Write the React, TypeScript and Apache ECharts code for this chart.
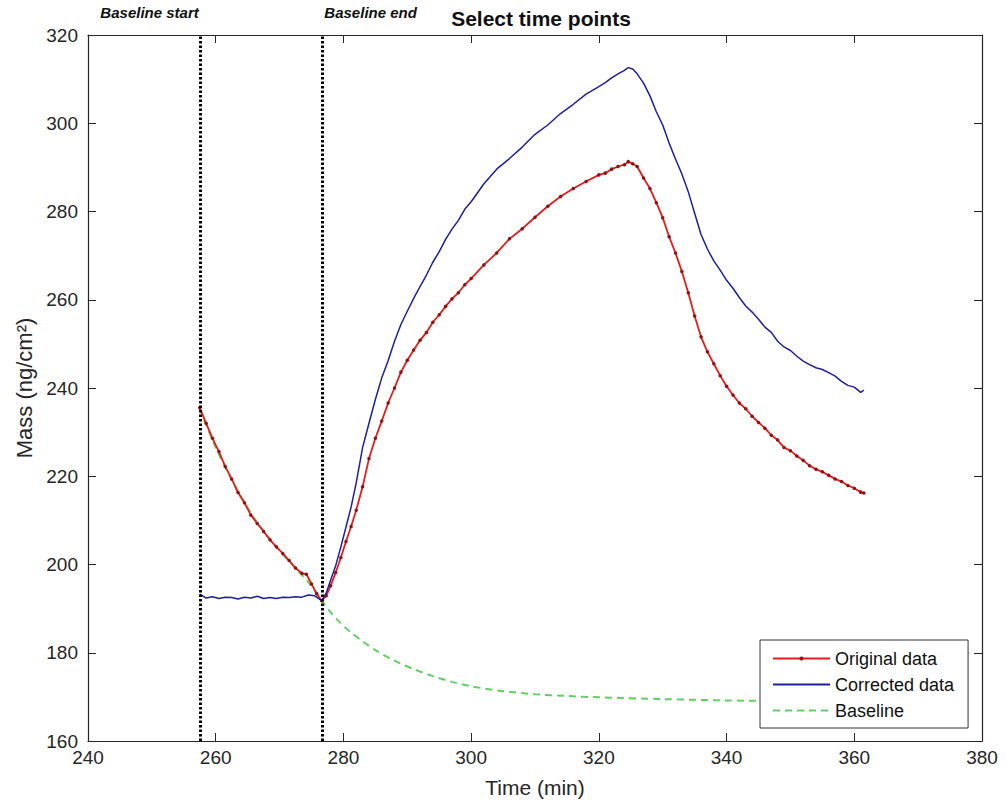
import React, { useEffect, useRef } from "react";
import * as echarts from "echarts";

// Axis ranges (MATLAB-style box)
const X_MIN = 240;
const X_MAX = 380;
const X_STEP = 20;
const Y_MIN = 160;
const Y_MAX = 320;
const Y_STEP = 20;

const chartTitle = "Select time points";
const xAxisName = "Time (min)";
const yAxisName = "Mass (ng/cm²)";
const seriesNames = ["Original data", "Corrected data", "Baseline"];

// Selected time points (vertical dotted lines)
const selectedTimes = [257.5, 276.7];
const selectedLabels = ["Baseline start", "Baseline end"];

// Original data (red)
const tOriginal = [
  257.5, 258.5, 259.5, 260.5, 261.5, 262.5, 263.5, 264.5, 265.5, 266.5, 267.5, 268.5, 269.5, 270.5,
  271.5, 272.5, 273.5, 274.2, 275, 275.8, 276.6, 277.3, 278, 278.8, 279.6, 280.4, 281.2, 282, 283,
  284, 285, 286, 287, 288, 289, 290, 291, 292, 293, 294, 295, 296, 297, 298, 299, 300, 302, 304,
  306, 308, 310, 312, 314, 316, 318, 320, 321, 322, 323, 324, 324.6, 325.3, 326, 327, 328, 329,
  330, 331, 332, 333, 334, 335, 336, 337, 338, 339, 340, 341, 342, 343, 344, 345, 346, 347, 348,
  349, 350, 351, 352, 353, 354, 355, 356, 357, 358, 359, 360, 361, 361.5,
];
const massOriginal = [
  235.5, 232.0, 228.6, 225.6, 222.2, 219.4, 216.3, 214.0, 211.2, 209.3, 207.5, 205.6, 204.0, 202.5,
  200.9, 199.2, 198.0, 197.8, 195.6, 193.4, 191.8, 192.9, 195.2, 198.2, 201.6, 205.2, 208.6, 212.3,
  217.6, 224.0, 228.6, 232.5, 236.6, 240.0, 243.6, 246.3, 248.6, 250.8, 252.6, 254.9, 256.6, 258.5,
  260.2, 261.6, 263.4, 264.8, 267.9, 270.6, 273.8, 276.1, 278.7, 281.2, 283.4, 285.2, 286.8, 288.3,
  288.7, 289.6, 290.2, 290.6, 291.3, 290.8, 290.2, 287.6, 285.2, 282.0, 278.6, 274.3, 270.6, 266.4,
  261.6, 256.3, 251.6, 248.2, 245.5, 242.8, 240.4, 238.4, 236.6, 235.3, 233.6, 232.2, 230.9, 229.3,
  228.2, 226.5, 225.8, 224.6, 223.6, 222.4, 221.6, 221.0, 220.2, 219.4, 218.8, 217.9, 217.3, 216.4,
  216.2,
];

// Corrected data (blue)
const tCorrected = [
  257.5, 258.5, 259.5, 260.5, 261.5, 262.5, 263.5, 264.5, 265.5, 266.5, 267.5, 268.5, 269.5, 270.5,
  271.5, 272.5, 273.5, 274.5, 275.5, 276.6, 277.3, 278, 278.8, 279.6, 280.4, 281.2, 282, 283, 284,
  285, 286, 287, 288, 289, 290, 291, 292, 293, 294, 295, 296, 297, 298, 299, 300, 302, 304, 306,
  308, 310, 312, 314, 316, 318, 320, 321, 322, 323, 324, 324.6, 325.3, 326, 327, 328, 329, 330, 331,
  332, 333, 334, 335, 336, 337, 338, 339, 340, 341, 342, 343, 344, 345, 346, 347, 348, 349, 350, 351,
  352, 353, 354, 355, 356, 357, 358, 359, 360, 361, 361.5,
];
const massCorrected = [
  193.3, 192.4, 192.7, 192.3, 192.6, 192.5, 192.2, 192.6, 192.4, 192.8, 192.3, 192.5, 192.3, 192.6,
  192.5, 192.7, 192.6, 193.1, 192.9, 191.8, 193.5, 196.5, 199.8, 204.0, 208.5, 213.0, 218.5, 226.5,
  232.0, 237.4, 242.3, 246.2, 250.6, 254.4, 257.4, 260.3, 263.0, 265.6, 268.5, 270.9, 273.7, 276.0,
  278.0, 280.5, 282.2, 286.3, 289.6, 292.0, 294.6, 297.5, 299.6, 302.2, 304.3, 306.6, 308.3, 309.2,
  310.3, 311.2, 312.0, 312.6, 312.3, 311.2, 309.1, 306.2, 302.6, 299.6, 295.5, 291.9, 288.5, 284.5,
  279.6, 274.8, 271.5, 268.8, 266.7, 264.4, 262.6, 260.5, 258.6, 257.2, 255.6, 253.8, 252.6, 250.6,
  249.3, 248.5, 247.2, 246.1, 245.3, 244.6, 244.2, 243.5, 242.7, 241.5, 240.6, 240.2, 239.0, 239.5,
];

// Baseline fit (green dashed)
const tBaseline = [
  257.5, 260, 263, 266, 269, 272, 274.5, 276.7, 278, 279.5, 281, 283, 285, 288, 291, 294, 297, 300,
  305, 310, 315, 320, 330, 340, 350, 361.5,
];
const massBaseline = [
  235.3, 226.5, 217.8, 210.6, 204.8, 199.9, 196.0, 191.6, 189.2, 186.8, 184.8, 182.6, 180.6, 178.2,
  176.3, 174.7, 173.4, 172.4, 171.3, 170.6, 170.2, 169.9, 169.5, 169.2, 169.0, 168.8,
];

const AXIS_COLOR = "#262626";
const FONT = "Liberation Sans, Arial, Helvetica, sans-serif";
const RED = "#e41c1c";
const RED_DOT = "#8e1414";
const BLUE = "#1f1f9a";
const GREEN = "#62d062";

function pairs(xs: number[], ys: number[]) {
  return xs.map((x, i) => [x, ys[i]]);
}

export default function App() {
  const ref = useRef<HTMLDivElement>(null);

  useEffect(() => {
    if (!ref.current) return;
    const chart = echarts.init(ref.current, undefined, { renderer: "svg" });

    const tickStyle = { show: true, inside: true, length: 8, lineStyle: { color: AXIS_COLOR, width: 1 } };
    const lineStyle = { show: true, onZero: false, lineStyle: { color: AXIS_COLOR, width: 1.2 } };

    chart.setOption({
      animation: false,
      backgroundColor: "#ffffff",
      textStyle: { fontFamily: FONT },
      title: {
        text: chartTitle,
        left: 536,
        textAlign: "center",
        top: 3,
        textStyle: { fontSize: 21, fontWeight: "bold", color: "#111", fontFamily: FONT },
      },
      grid: { left: 88, right: 24, top: 35, bottom: 71, containLabel: false },
      legend: {
        data: [
          { name: seriesNames[0] },
          { name: seriesNames[1], itemStyle: { opacity: 0 } },
          { name: seriesNames[2], itemStyle: { opacity: 0 } },
        ],
        orient: "vertical",
        left: 760,
        top: 640,
        width: 206,
        padding: [8, 10, 7, 12],
        itemGap: 5,
        itemWidth: 57,
        itemHeight: 5,
        backgroundColor: "#ffffff",
        borderColor: "#333333",
        borderWidth: 1,
        borderRadius: 0,
        textStyle: { fontSize: 18, color: "#111", fontFamily: FONT, lineHeight: 21, padding: [0, 4, 0, 0] },
      },
      xAxis: [
        {
          type: "value",
          min: X_MIN,
          max: X_MAX,
          interval: X_STEP,
          position: "bottom",
          name: xAxisName,
          nameLocation: "middle",
          nameGap: 36,
          nameTextStyle: { fontSize: 21, color: AXIS_COLOR, fontFamily: FONT },
          axisLine: lineStyle,
          axisTick: tickStyle,
          axisLabel: { fontSize: 19, color: AXIS_COLOR, margin: 7, fontFamily: FONT },
          splitLine: { show: false },
        },
        {
          type: "value",
          min: X_MIN,
          max: X_MAX,
          interval: X_STEP,
          position: "top",
          axisLine: lineStyle,
          axisTick: tickStyle,
          axisLabel: { show: false },
          splitLine: { show: false },
        },
      ],
      yAxis: [
        {
          type: "value",
          min: Y_MIN,
          max: Y_MAX,
          interval: Y_STEP,
          position: "left",
          name: yAxisName,
          nameLocation: "middle",
          nameGap: 49,
          nameTextStyle: { fontSize: 22, color: AXIS_COLOR, fontFamily: FONT },
          axisLine: lineStyle,
          axisTick: tickStyle,
          axisLabel: { fontSize: 19, color: AXIS_COLOR, margin: 10, fontFamily: FONT },
          splitLine: { show: false },
        },
        {
          type: "value",
          min: Y_MIN,
          max: Y_MAX,
          interval: Y_STEP,
          position: "right",
          axisLine: lineStyle,
          axisTick: tickStyle,
          axisLabel: { show: false },
          splitLine: { show: false },
        },
      ],
      series: [
        {
          name: seriesNames[2],
          type: "line",
          z: 1,
          data: pairs(tBaseline, massBaseline),
          showSymbol: false,
          symbol: "none",
          smooth: 0.3,
          lineStyle: { color: GREEN, width: 2, type: [7, 5] },
          itemStyle: { color: GREEN },
        },
        {
          name: seriesNames[0],
          type: "line",
          z: 3,
          data: pairs(tOriginal, massOriginal),
          symbol: "circle",
          symbolSize: 3.5,
          showSymbol: true,
          lineStyle: { color: RED, width: 1.8 },
          itemStyle: { color: RED_DOT },
        },
        {
          name: seriesNames[1],
          type: "line",
          z: 4,
          data: pairs(tCorrected, massCorrected),
          showSymbol: false,
          symbol: "none",
          lineStyle: { color: BLUE, width: 1.5 },
          itemStyle: { color: BLUE },
          markLine: {
            silent: true,
            symbol: "none",
            z: 5,
            label: { show: false },
            lineStyle: { color: "#000000", width: 3, type: [2.5, 2] },
            data: selectedTimes.map((t) => ({ xAxis: t })),
          },
        },
      ],
    });

    const xs = selectedTimes.map((t) => chart.convertToPixel({ xAxisIndex: 0 }, t) as number);
    chart.setOption({
      graphic: selectedLabels.map((label, i) => ({
        type: "text",
        x: i === 0 ? xs[i] - 1 : xs[i] + 2,
        y: 20,
        style: {
          text: label,
          fontSize: 15,
          fontWeight: "bold",
          fontStyle: "italic",
          fontFamily: FONT,
          fill: "#111",
          textAlign: i === 0 ? "right" : "left",
          textVerticalAlign: "bottom",
        },
      })),
    });

    return () => chart.dispose();
  }, []);

  return (
    <div
      ref={ref}
      style={{ position: "fixed", left: 0, top: 0, width: 1006, height: 812, background: "#fff" }}
    />
  );
}
